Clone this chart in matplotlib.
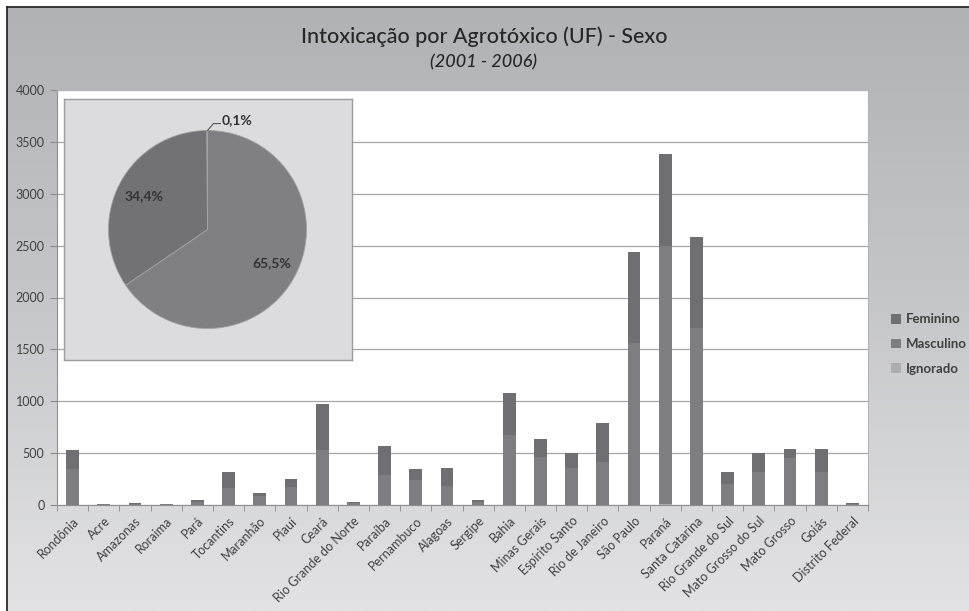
import numpy as np
import matplotlib
matplotlib.use('Agg')
import matplotlib.pyplot as plt
from matplotlib.colors import LinearSegmentedColormap

plt.rcParams['font.family'] = ['Lato', 'DejaVu Sans']

# ---------------- data ----------------
states = ['Rondônia', 'Acre', 'Amazonas', 'Roraima', 'Pará', 'Tocantins',
          'Maranhão', 'Piauí', 'Ceará', 'Rio Grande do Norte', 'Paraíba',
          'Pernambuco', 'Alagoas', 'Sergipe', 'Bahia', 'Minas Gerais',
          'Espírito Santo', 'Rio de Janeiro', 'São Paulo', 'Paraná',
          'Santa Catarina', 'Rio Grande do Sul', 'Mato Grosso do Sul',
          'Mato Grosso', 'Goiás', 'Distrito Federal']
masculino = [347, 6, 14, 6, 33, 165, 84, 177, 531, 20, 289, 244, 186, 33,
             673, 459, 353, 410, 1560, 2491, 1700, 199, 321, 456, 321, 14]
feminino = [183, 4, 8, 4, 18, 150, 35, 70, 437, 12, 280, 103, 171, 18,
            401, 177, 151, 379, 877, 884, 883, 122, 183, 81, 216, 8]
ignorado = [0, 0, 0, 0, 0, 0, 0, 0, 2, 0, 0, 0, 0, 0,
            2, 0, 0, 1, 4, 5, 3, 0, 0, 0, 0, 0]

pie_labels = ['Masculino', 'Feminino', 'Ignorado']
pie_values = [65.5, 34.4, 0.1]

y_ticks = [0, 500, 1000, 1500, 2000, 2500, 3000, 3500, 4000]

title = 'Intoxicação por Agrotóxico (UF) - Sexo'
subtitle = '(2001 - 2006)'

# ---------------- styles ----------------
c_fem = '#6f6f73'
c_masc = '#7e7e82'
c_ign = '#adadb0'
txt = '#404040'

W, H = 970, 611
fig = plt.figure(figsize=(W / 100, H / 100), dpi=100)
fig.patch.set_facecolor('white')


def fx(px):
    return px / W


def fy(py):
    return 1 - py / H


# background gradient
bg = fig.add_axes([0, 0, 1, 1], zorder=-10)
bg.set_xlim(0, W)
bg.set_ylim(H, 0)
bg.axis('off')
grad = np.linspace(0, 1, 256).reshape(-1, 1)
cmap = LinearSegmentedColormap.from_list('g', ['#b1b2b6', '#c6c7ca', '#e3e3e5'])
bg.imshow(grad, extent=[7, W, H, 7], aspect='auto', cmap=cmap, origin='upper')
bg.plot([7, 7], [7, H], color='#2a2a2a', lw=1.3)
bg.plot([7, W], [7, 7], color='#2a2a2a', lw=1.3)
bg.set_xlim(0, W)
bg.set_ylim(H, 0)

fig.text(fx(484), fy(37), title, ha='center', va='center', fontsize=15.5,
         color='#262626', fontweight='medium')
fig.text(fx(484), fy(62), subtitle, ha='center', va='center', fontsize=13,
         style='italic', color='#262626', fontweight='medium')

# main axes
ax = fig.add_axes([fx(57), fy(505), fx(868) - fx(57), (505 - 90) / H])
ax.set_facecolor('white')
x = np.arange(len(states))
ign = np.array(ignorado)
masc = np.array(masculino)
fem = np.array(feminino)
bw = 0.41
bi = ax.bar(x, ign, bw, color=c_ign, zorder=3)
bm = ax.bar(x, masc, bw, bottom=ign, color=c_masc, zorder=3)
bf = ax.bar(x, fem, bw, bottom=ign + masc, color=c_fem, zorder=3)

ax.set_xlim(-0.5, len(states) - 0.5)
ax.set_ylim(0, 4000)
ax.set_yticks(y_ticks)
ax.set_yticklabels([str(v) for v in y_ticks], fontsize=9, color=txt)
ax.yaxis.grid(True, color='#a6a6a6', lw=0.9)
ax.set_axisbelow(True)
ax.tick_params(axis='y', length=5, color='#8a8a8a', pad=4)

ax.set_xticks(x)
ax.set_xticklabels(states, rotation=45, ha='right', rotation_mode='anchor',
                   fontsize=9, color=txt)
ax.tick_params(axis='x', which='major', length=0, pad=7)
ax.set_xticks(np.arange(-0.5, len(states), 1), minor=True)
ax.tick_params(axis='x', which='minor', length=4, color='#8a8a8a')

for s in ['left', 'bottom']:
    ax.spines[s].set_color('#8f8f8f')
for s in ['top', 'right']:
    ax.spines[s].set_color('#b4b4b4')

# pie inset box
box = fig.add_axes([fx(64), fy(360), 288 / W, 261 / H], zorder=5)
box.set_facecolor('#dcdcde')
box.set_xticks([])
box.set_yticks([])
for s in box.spines.values():
    s.set_color('#9c9c9c')
    s.set_linewidth(1)

pax = fig.add_axes([fx(207.5 - 99), fy(229.5 + 99), 198 / W, 198 / H], zorder=6)
pax.patch.set_alpha(0)
wedges, texts, autotexts = pax.pie(
    pie_values, colors=['#808084', '#727276', c_ign], startangle=90,
    counterclock=False,
    autopct=lambda p: f'{p:.1f}%'.replace('.', ','), pctdistance=0.73,
    wedgeprops=dict(edgecolor='#a2a2a6', linewidth=0.6),
    textprops=dict(fontsize=10, fontweight='bold', color='#333333'))
pax.set_xlim(-1, 1)
pax.set_ylim(-1, 1)
autotexts[2].set_position((0.14, 1.11))
autotexts[2].set_ha('left')
autotexts[2].set_va('center')
autotexts[2].set_text(f'{pie_values[2]:.1f}%'.replace('.', ','))
pax.plot([0.0, 0.06, 0.13], [1.0, 1.07, 1.07], color='#555555', lw=0.8,
         clip_on=False)

# legend
fig.legend(handles=[bf, bm, bi], labels=['Feminino', 'Masculino', 'Ignorado'],
           loc='center left', bbox_to_anchor=(fx(886), fy(344)), frameon=False,
           prop=dict(weight='bold', size=9.5), labelcolor=txt,
           handlelength=0.75, handleheight=0.75, handletextpad=0.35,
           labelspacing=0.95, borderaxespad=0)

fig.savefig('out.png', dpi=100)
